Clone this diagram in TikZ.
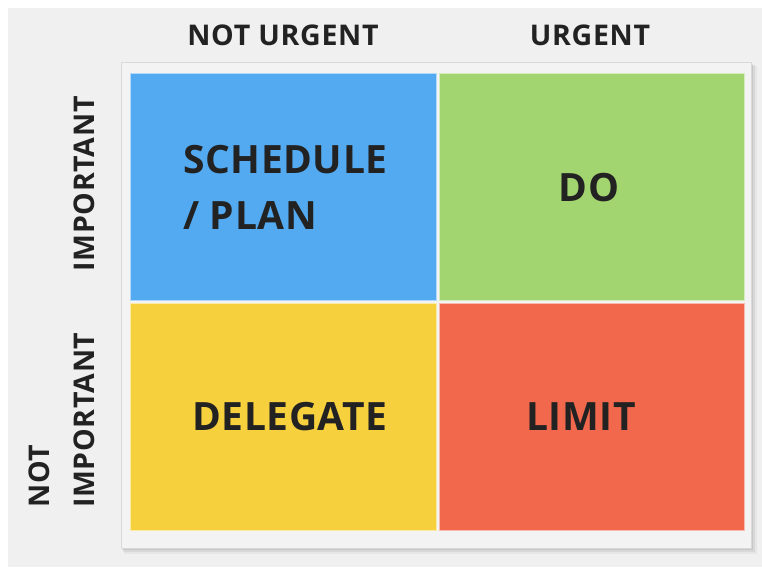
\documentclass[tikz,border=0pt]{standalone}
\usepackage{fontspec}
\setmainfont{Open Sans}
\definecolor{page}{HTML}{F0F0F0}
\definecolor{panel}{HTML}{F3F3F3}
\definecolor{edge}{HTML}{D9D9D9}
\definecolor{ink}{HTML}{222222}
\definecolor{qblue}{HTML}{53AAF1}
\definecolor{qgreen}{HTML}{A2D46F}
\definecolor{qyellow}{HTML}{F7D03D}
\definecolor{qred}{HTML}{F2684C}
\begin{document}
\begin{tikzpicture}[x=1pt,y=-1pt,
  quad/.style={draw=white!55!#1, line width=1.2pt, fill=#1},
  big/.style={font=\bfseries\fontsize{39}{56}\selectfont\addfontfeatures{LetterSpace=1.5}, text=ink},
  head/.style={font=\bfseries\fontsize{28.5}{45}\selectfont\addfontfeatures{LetterSpace=2.5}, text=ink}]
  % canvas
  \useasboundingbox (0,0) rectangle (762,567);
  \fill[white] (0,0) rectangle (762,567);
  \fill[page] (8,8) rectangle (762,567);
  % panel with soft shadow
  \foreach \d/\o in {6/0.04,4/0.06,2/0.08}{
    \fill[black, opacity=\o] (121+\d/2,63+\d/2) rectangle (751+\d,548+\d);
  }
  \filldraw[fill=panel, draw=edge, line width=1pt] (121,63) rectangle (751,548);
  % quadrants
  \node[quad=qblue, minimum width=306, minimum height=227, anchor=north west, inner sep=0] (sched) at (130,73) {};
  \node[quad=qgreen, minimum width=305, minimum height=227, anchor=north west, inner sep=0] (do) at (439,73) {};
  \node[quad=qyellow, minimum width=306, minimum height=227, anchor=north west, inner sep=0] (deleg) at (130,303) {};
  \node[quad=qred, minimum width=305, minimum height=227, anchor=north west, inner sep=0] (limit) at (439,303) {};
  % quadrant labels
  \node[big, align=left, anchor=west, inner sep=0] (tsched) at (183,187) {SCHEDULE\\/ PLAN};
  \node[big, inner sep=0] (tdo) at (589,188) {DO};
  \node[big, inner sep=0] (tdeleg) at (290,417) {DELEGATE};
  \node[big, inner sep=0] (tlimit) at (581,417) {LIMIT};
  % column headings
  \node[head, inner sep=0] (hnot) at (283,35) {NOT URGENT};
  \node[head, inner sep=0] (hurg) at (590,35) {URGENT};
  % row headings
  \node[head, rotate=90, inner sep=0] (himp) at (84,184) {IMPORTANT};
  \node[head, rotate=90, align=left, inner sep=0, anchor=south west] (hnimp) at (95,508) {NOT\\IMPORTANT};
\end{tikzpicture}
\end{document}
